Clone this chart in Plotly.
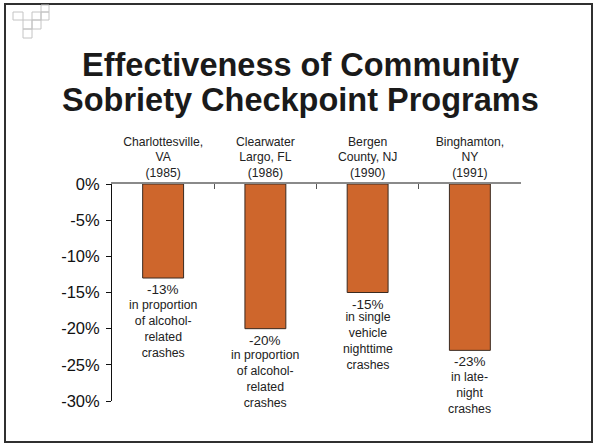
import plotly.graph_objects as go

# ---- data ----
categories = ["Charlottesville,<br>VA<br>(1985)",
              "Clearwater<br>Largo, FL<br>(1986)",
              "Bergen<br>County, NJ<br>(1990)",
              "Binghamton,<br>NY<br>(1991)"]
changes = [-13, -20, -15, -23]
value_labels = ["-13%", "-20%", "-15%", "-23%"]
descriptions = ["in proportion<br>of alcohol-<br>related<br>crashes",
                "in proportion<br>of alcohol-<br>related<br>crashes",
                "in single<br>vehicle<br>nighttime<br>crashes",
                "in late-<br>night<br>crashes"]
y_tick_values = [0, -5, -10, -15, -20, -25, -30]
y_tick_labels = ["0%", "-5%", "-10%", "-15%", "-20%", "-25%", "-30%"]
title_lines = ["Effectiveness of Community", "Sobriety Checkpoint Programs"]

# ---- layout geometry (pixels) ----
W, H = 594, 445
ML, MR, MT, MB = 112, 73, 184, 44
PW, PH = W - ML - MR, H - MT - MB


def px(x):
    return (x - ML) / PW


def py(y):
    return (H - MB - y) / PH


FONT = "Liberation Sans, Arial, sans-serif"
BAR_COLOR = "rgb(206,102,44)"
desc_shift = [-19, -18, -16, -19]

fig = go.Figure()
fig.add_trace(go.Bar(
    x=categories, y=changes, width=0.4,
    marker=dict(color=BAR_COLOR, line=dict(color="#3a2a20", width=1)),
    hoverinfo="skip", showlegend=False,
))

annotations = []
for i, (cat, v) in enumerate(zip(categories, changes)):
    annotations.append(dict(x=cat, y=v, xref="x", yref="y", text=value_labels[i],
                            showarrow=False, yanchor="top", xanchor="center",
                            yshift=-3, borderpad=0,
                            font=dict(family=FONT, size=13.5, color="#222")))
    annotations.append(dict(x=cat, y=v, xref="x", yref="y", text=descriptions[i],
                            showarrow=False, yanchor="top", xanchor="center",
                            yshift=desc_shift[i], borderpad=0,
                            font=dict(family=FONT, size=12.3, color="#222")))

title_y = [65, 100]
for t, yy in zip(title_lines, title_y):
    annotations.append(dict(x=px(300), y=py(yy), xref="paper", yref="paper", text="<b>%s</b>" % t,
                            showarrow=False, xanchor="center", yanchor="middle", borderpad=0,
                            font=dict(family=FONT, size=32.5, color="#1a1a1a")))

shapes = []
# slide frame
shapes.append(dict(type="rect", xref="paper", yref="paper",
                   x0=px(5), x1=px(592), y0=py(4), y1=py(442),
                   line=dict(color="#303030", width=2)))
# decorative grid icon
boxes = [(13, 12, 23, 20), (32, 12, 41, 20), (41, 12, 49, 20), (41, 5, 49, 12),
         (23, 20, 32, 29), (32, 20, 41, 29), (23, 29, 32, 38)]
for (x0, y0, x1, y1) in boxes:
    shapes.append(dict(type="rect", xref="paper", yref="paper",
                       x0=px(x0), x1=px(x1), y0=py(y0), y1=py(y1),
                       line=dict(color="#c4c4c4", width=1)))

fig.update_layout(
    width=W, height=H,
    margin=dict(l=ML, r=MR, t=MT, b=MB),
    paper_bgcolor="white", plot_bgcolor="white",
    annotations=annotations, shapes=shapes,
    bargap=0.6,
    xaxis=dict(type="category", side="top", showline=True, linecolor="#8a8a8a", linewidth=1.5,
               ticks="inside", tickson="boundaries", ticklen=5, tickcolor="#555",
               tickfont=dict(family=FONT, size=12.2, color="#222"),
               showgrid=False, zeroline=False, fixedrange=True),
    yaxis=dict(range=[-30, 0], tickvals=y_tick_values, ticktext=y_tick_labels,
               showline=True, linecolor="#111", linewidth=1,
               ticks="outside", ticklen=5, tickcolor="#111", ticklabelstandoff=3,
               tickfont=dict(family=FONT, size=16.5, color="#111"),
               showgrid=False, zeroline=False, fixedrange=True),
)

fig.write_html("out.html")
